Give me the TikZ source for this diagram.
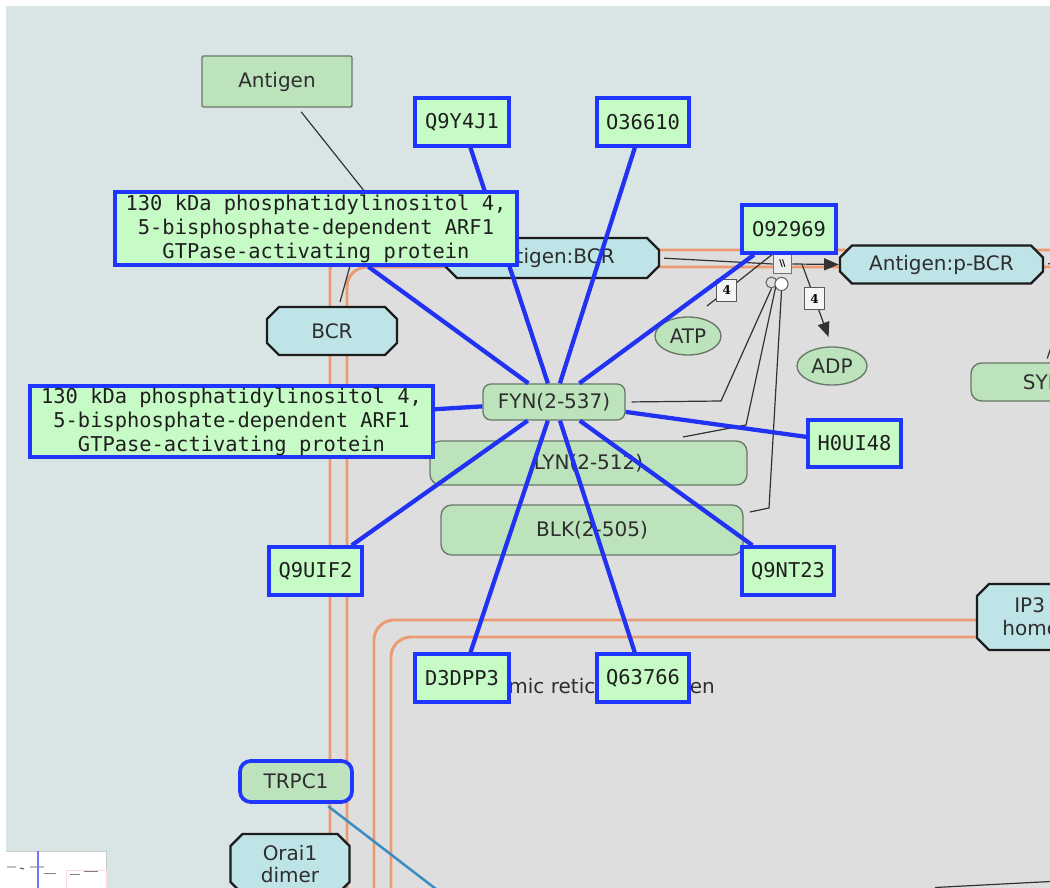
\documentclass[tikz,border=0pt]{standalone}
\usepackage{fontspec}
\setmainfont{DejaVu Sans}
\newfontfamily\boxmono{DejaVu Sans Mono}
\newfontfamily\stoichf{DejaVu Serif}
\usetikzlibrary{shapes.geometric,shapes.misc,arrows.meta}

\definecolor{bgc}{HTML}{D9E5E5}
\definecolor{cellc}{HTML}{DEDEDE}
\definecolor{memc}{HTML}{EC9A72}
\definecolor{protfill}{HTML}{BDE3BC}
\definecolor{protline}{HTML}{687868}
\definecolor{cplxfill}{HTML}{BEE4E7}
\definecolor{cplxline}{HTML}{1C1C1C}
\definecolor{bboxfill}{HTML}{C6FBC6}
\definecolor{bboxline}{HTML}{1E36FF}
\definecolor{linkc}{HTML}{2232F2}
\definecolor{rxnc}{HTML}{333333}
\definecolor{txt}{HTML}{2E2E2E}
\definecolor{tealc}{HTML}{3A8EC0}

\pgfdeclarelayer{back}
\pgfdeclarelayer{base}
\pgfdeclarelayer{links}
\pgfsetlayers{back,base,links,main}

\newcommand{\sansf}{\fontsize{15}{17}\selectfont}
\newcommand{\monof}{\boxmono\fontsize{15.3}{18}\selectfont}

\begin{document}
\begin{tikzpicture}[x=0.75pt,y=-0.75pt,
  sz/.style 2 args={minimum width={#1*0.75pt},minimum height={#2*0.75pt}},
  prot/.style={draw=protline,fill=protfill,line width=1pt,rounded corners=6pt,
    inner sep=0pt,text=txt,font=\sansf},
  cplx/.style={chamfered rectangle,chamfered rectangle xsep=4.5pt,
    chamfered rectangle ysep=4.5pt,draw=cplxline,fill=cplxfill,line width=1.8pt,
    inner sep=0pt,text=txt,font=\sansf,align=center},
  smol/.style={ellipse,draw=protline,fill=protfill,line width=1pt,inner sep=0pt,
    text=txt,font=\sansf},
  bbox/.style={draw=bboxline,fill=bboxfill,line width=2.6pt,inner sep=0pt,
    font=\monof,text=black!88,align=center},
  link/.style={draw=linkc,line width=3.2pt},
  rxnline/.style={draw=rxnc,line width=0.9pt},
  mem/.style={draw=memc,line width=2.2pt,rounded corners=15pt},
  stoich/.style={draw=black!65,fill=black!4,line width=0.8pt,inner sep=0pt,
    minimum width=15pt,minimum height=16pt,font=\stoichf\fontsize{9}{9}\selectfont\bfseries},
  cmptext/.style={text=txt,font=\sansf,inner sep=0pt}
]
\useasboundingbox (0,0) rectangle (1050,888);
\clip (0,0) rectangle (1050,888);

% ---------- compartments ----------
\begin{pgfonlayer}{back}
  \fill[white] (0,0) rectangle (1050,888);
  \fill[bgc] (6,6) rectangle (1060,900);
  \fill[cellc,rounded corners=15pt] (330,900) -- (330,250) -- (1060,250) -- (1060,900) -- cycle;
  % plasma membrane
  \draw[mem] (330,900) -- (330,250) -- (1060,250);
  \draw[mem] (347,900) -- (347,267) -- (1060,267);
  % endoplasmic reticulum membrane
  \draw[mem] (374,900) -- (374,620) -- (1060,620);
  \draw[mem] (391,900) -- (391,637) -- (1060,637);
  \node[cmptext] (erlabel) at (566,688) {Endoplasmic reticulum lumen};
\end{pgfonlayer}

% ---------- entities ----------
\begin{pgfonlayer}{base}
  \node[prot,sz={150}{51},rounded corners=1pt] (antigen) at (277,81.5) {Antigen};
  \node[cplx,sz={214}{40}] (agbcr) at (552,258) {Antigen:BCR};
  \node[cplx,sz={203}{38}] (agpbcr) at (941.5,264.5) {Antigen:p-BCR};
  \node[cplx,sz={130}{48}] (bcr) at (332,331) {BCR};
  \node[cplx,sz={196}{66}] (ip3r) at (1075,617) {IP3 receptor\\homotetramer};
  \node[cplx,sz={119}{60}] (orai) at (290,864) {Orai1\\dimer};
  \node[prot,sz={142}{36}] (fyn) at (554,402) {FYN(2-537)};
  \node[prot,sz={317}{44},rounded corners=8pt] (lyn) at (588.5,463) {LYN(2-512)};
  \node[prot,sz={302}{50},rounded corners=8pt] (blk) at (592,530) {BLK(2-505)};
  \node[prot,sz={142}{38},rounded corners=8pt] (syk) at (1042,382) {SYK};
  \node[prot,sz={112}{41},rounded corners=8pt,draw=bboxline,line width=2.8pt] (trpc) at (296,781.5) {TRPC1};
  \node[smol,sz={66}{38}] (atp) at (688,336) {ATP};
  \node[smol,sz={70}{38}] (adp) at (832,366) {ADP};

  % reaction node and catalysis circles
  \node[draw=black!55,fill=black!7,line width=0.8pt,minimum size=14pt,inner sep=0pt,
        font=\fontsize{7}{7}\selectfont\bfseries] (rxn) at (782.5,264) {\textbackslash\kern-0.5pt\textbackslash};
  \node[circle,draw=black!60,line width=0.8pt,minimum size=8.2pt,inner sep=0pt] (cat1) at (771.5,282.5) {};
  \node[circle,draw=black!60,fill=white,line width=0.8pt,minimum size=9.8pt,inner sep=0pt] (cat2) at (781.5,284) {};

  % reaction connectors
  \coordinate (j1) at (369,197);
  \draw[rxnline,shorten <=4pt] (antigen) -- (j1);
  \draw[rxnline,shorten <=3pt] (bcr) -- (j1);
  \draw[rxnline,shorten <=3pt] (agbcr.east) -- (rxn.west);
  \draw[rxnline,-{Triangle[length=11pt,width=9pt]}] (rxn.east) -- (agpbcr.west);
  \coordinate (atpin) at (707,306);
  \draw[rxnline] (atpin) -- node[stoich,pos=0.3] (s1) {4} (rxn.north west);
  \coordinate (adpout) at (802,264);
  \draw[rxnline,-{Triangle[length=11pt,width=9pt]},shorten >=7.5pt] (adpout) -- node[stoich,pos=0.42] (s2) {4} (adp.north);
  % catalysts
  \coordinate (k1) at (721,401);
  \draw[rxnline,shorten >=4.5pt] (cat1.south) -- (k1) -- (fyn.east);
  \coordinate (k2) at (746,425);
  \coordinate (k3) at (683,437);
  \draw[rxnline] (cat1.south east) -- (k2) -- (k3);
  \coordinate (k4) at (769,508);
  \coordinate (k5) at (750,512);
  \draw[rxnline] (cat2.south) -- (k4) -- (k5);
  % connectors leaving the view
  \coordinate (off1) at (1060,262);
  \draw[rxnline,shorten <=3pt] (agpbcr.east) -- (off1);
  \coordinate (off2) at (1056,332);
  \draw[rxnline,shorten <=3pt] ([xshift=3pt]syk.north) -- (off2);
  \coordinate (off3a) at (935,887.5);
  \coordinate (off3b) at (1060,881);
  \draw[rxnline] (off3a) -- (off3b);
  \coordinate (off4) at (445,896);
  \draw[draw=tealc,line width=1.9pt,shorten <=3pt] (trpc) -- (off4);
\end{pgfonlayer}

% ---------- interactors of FYN ----------
\node[bbox,sz={94}{48}] (q9y4j1) at (462,122) {Q9Y4J1};
\node[bbox,sz={92}{48}] (o36610) at (643,122) {O36610};
\node[bbox,sz={94}{48}] (o92969) at (789,229) {O92969};
\node[bbox,sz={402}{73}] (gap1) at (316,228.5) {130 kDa phosphatidylinositol 4,\\5-bisphosphate-dependent ARF1\\GTPase-activating protein};
\node[bbox,sz={403}{71}] (gap2) at (231.5,421.5) {130 kDa phosphatidylinositol 4,\\5-bisphosphate-dependent ARF1\\GTPase-activating protein};
\node[bbox,sz={93}{47}] (h0ui48) at (854.5,443.5) {H0UI48};
\node[bbox,sz={93}{48}] (q9uif2) at (315.5,571) {Q9UIF2};
\node[bbox,sz={92}{48}] (q9nt23) at (788,571) {Q9NT23};
\node[bbox,sz={94}{48}] (d3dpp3) at (462,678) {D3DPP3};
\node[bbox,sz={92}{48}] (q63766) at (643,678) {Q63766};

\begin{pgfonlayer}{links}
  \foreach \p in {q9y4j1,o36610,o92969,gap1,gap2,h0ui48,q9uif2,q9nt23,d3dpp3,q63766}
    \draw[link] (fyn) -- (\p);
\end{pgfonlayer}

% ---------- overview panel ----------
\fill[white] (6,851) rectangle (106,890);
\draw[black!20,line width=0.6pt] (6,851) -- (106,851) -- (106,890);
\draw[red!15,line width=0.5pt] (66,870) rectangle (106,890);
\draw[black!70,line width=0.7pt] (7,867) -- (16,867) (20,868) -- (24,869) (30,867) -- (44,867);
\draw[black!50,line width=0.5pt] (44,873) -- (56,873) (70,874) -- (80,874) (84,871) -- (98,871);
\draw[blue!55,line width=2pt] (38,851) -- (38,890);
\end{tikzpicture}
\end{document}
